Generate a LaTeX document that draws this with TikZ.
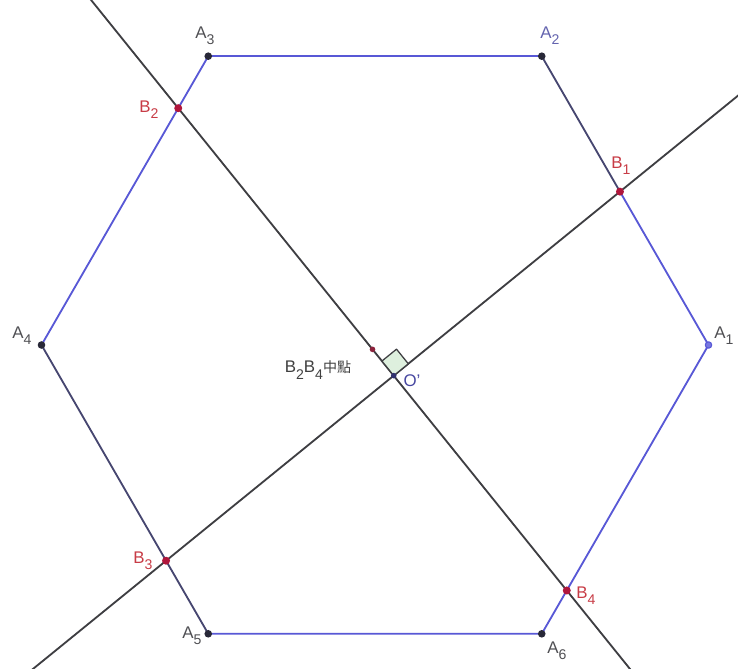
\documentclass[tikz,border=0pt]{standalone}
\usepackage{fontspec}
\setmainfont{Liberation Sans}
\newfontfamily\cjk{Noto Sans CJK TC}
\usetikzlibrary{calc}
\definecolor{hexBlue}{RGB}{88,88,214}
\definecolor{hexDark}{RGB}{70,70,112}
\definecolor{lineGray}{RGB}{62,62,66}
\definecolor{ptDark}{RGB}{40,40,56}
\definecolor{ptRed}{RGB}{176,22,60}
\definecolor{ptMid}{RGB}{140,34,60}
\definecolor{ptO}{RGB}{48,48,110}
\definecolor{ptLight}{RGB}{120,120,225}
\definecolor{markFill}{RGB}{222,240,222}
\definecolor{labRed}{RGB}{200,60,70}
\definecolor{labGray}{RGB}{80,80,84}
\definecolor{labBlue}{RGB}{100,100,175}
\definecolor{labO}{RGB}{70,70,160}
\newcommand{\ptlab}[2]{#1\raisebox{-4.5pt}{\fontsize{10}{11}\selectfont #2}}
\begin{document}
\begin{tikzpicture}
% hexagon A1..A6 cut by the lines B2B4 and B1B3
\def\px{0.025cm}
\providecommand{\lineWidth}{1.3pt}
\providecommand{\dotR}{0.095cm}
\tikzset{
  crossline/.style={draw=lineGray, line width=\lineWidth},
  edgeblue/.style={draw=hexBlue, line width=\lineWidth},
  edgedark/.style={draw=hexDark, line width=\lineWidth},
  rightmark/.style={draw=lineGray, line width=0.9pt, fill=markFill},
  lblA/.style={text=labGray, font=\fontsize{12}{14}\selectfont, inner sep=0pt},
  lblB/.style={text=labRed, font=\fontsize{12}{14}\selectfont, inner sep=0pt}
}
\begin{scope}[x=\px, y=-\px, line cap=round, line join=round]
  % Background and frame of the picture
  \fill[white] (0,0) rectangle (738,669);
  \useasboundingbox (0,0) rectangle (738,669);
  \clip (0,0) rectangle (738,669);
  % Vertices of the hexagon
  \coordinate (A1) at (708.5,345);
  \coordinate (A2) at (541.75,56.2);
  \coordinate (A3) at (208.25,56.2);
  \coordinate (A4) at (41.5,345);
  \coordinate (A5) at (208.25,633.8);
  \coordinate (A6) at (541.75,633.8);
  % Points on the sides
  \coordinate (B1) at ($(A2)!0.469!(A1)$);
  \coordinate (B2) at ($(A3)!0.18!(A4)$);
  \coordinate (B3) at ($(A4)!0.747!(A5)$);
  \coordinate (B4) at ($(A6)!0.15!(A1)$);
  \coordinate (M) at ($(B2)!0.5!(B4)$);
  \coordinate (O) at (intersection of B2--B4 and B1--B3);
  % Free ends of the two lines
  \coordinate (L1a) at ($(B2)!-0.25!(B4)$);
  \coordinate (L1b) at ($(B2)!1.2!(B4)$);
  \coordinate (L2a) at ($(B3)!-0.32!(B1)$);
  \coordinate (L2b) at ($(B3)!1.3!(B1)$);
  % Lines
  \draw[crossline] (L1a) -- (L1b);
  \draw[crossline] (L2a) -- (L2b);
  % Sides
  \draw[edgeblue] (A3) -- (A2);
  \draw[edgedark] (A2) -- (B1);
  \draw[edgeblue] (B1) -- (A1) -- (B4) -- (A6) -- (A5);
  \draw[edgedark] (A5) -- (B3) -- (A4);
  \draw[edgeblue] (A4) -- (B2) -- (A3);
  % Right angle at O'
  \coordinate (Ra) at ($(O)!0.47cm!(B2)$);
  \coordinate (Rb) at ($(O)!0.47cm!(B1)$);
  \path[rightmark] (O) -- (Ra) -- ($(Ra)+(Rb)-(O)$) -- (Rb) -- cycle;
  % Points
  \begin{scope}[fill=ptDark]
    \fill (A2) circle (\dotR);
    \fill (A3) circle (\dotR);
    \fill (A4) circle (\dotR);
    \fill (A5) circle (\dotR);
    \fill (A6) circle (\dotR);
  \end{scope}
  \filldraw[draw=hexBlue, fill=ptLight, line width=0.8pt] (A1) circle (0.08cm);
  \begin{scope}[fill=ptRed]
    \fill (B1) circle (0.1cm);
    \fill (B2) circle (0.1cm);
    \fill (B3) circle (0.1cm);
    \fill (B4) circle (0.1cm);
  \end{scope}
  \fill[fill=ptMid] (M) circle (0.07cm);
  \fill[fill=ptO] (O) circle (0.07cm);
  % Labels
  \node[lblA] (lA1) at (724,336) {\ptlab{A}{1}};
  \node[lblA, text=labBlue] (lA2) at (550,36) {\ptlab{A}{2}};
  \node[lblA] (lA3) at (205,36) {\ptlab{A}{3}};
  \node[lblA] (lA4) at (22,336) {\ptlab{A}{4}};
  \node[lblA] (lA5) at (192,636) {\ptlab{A}{5}};
  \node[lblA] (lA6) at (557,651) {\ptlab{A}{6}};
  \node[lblB] (lB1) at (621,166) {\ptlab{B}{1}};
  \node[lblB] (lB2) at (149,110) {\ptlab{B}{2}};
  \node[lblB] (lB3) at (143,561) {\ptlab{B}{3}};
  \node[lblB] (lB4) at (586,596) {\ptlab{B}{4}};
  \node[lblA, text=black!75] (lM) at (318,370) {\ptlab{B}{2}\ptlab{B}{4}{\cjk\fontsize{10}{12}\selectfont 中點}};
  \node[lblA, text=labO] (lO) at (412,381) {O'};
\end{scope}
\end{tikzpicture}
\end{document}
